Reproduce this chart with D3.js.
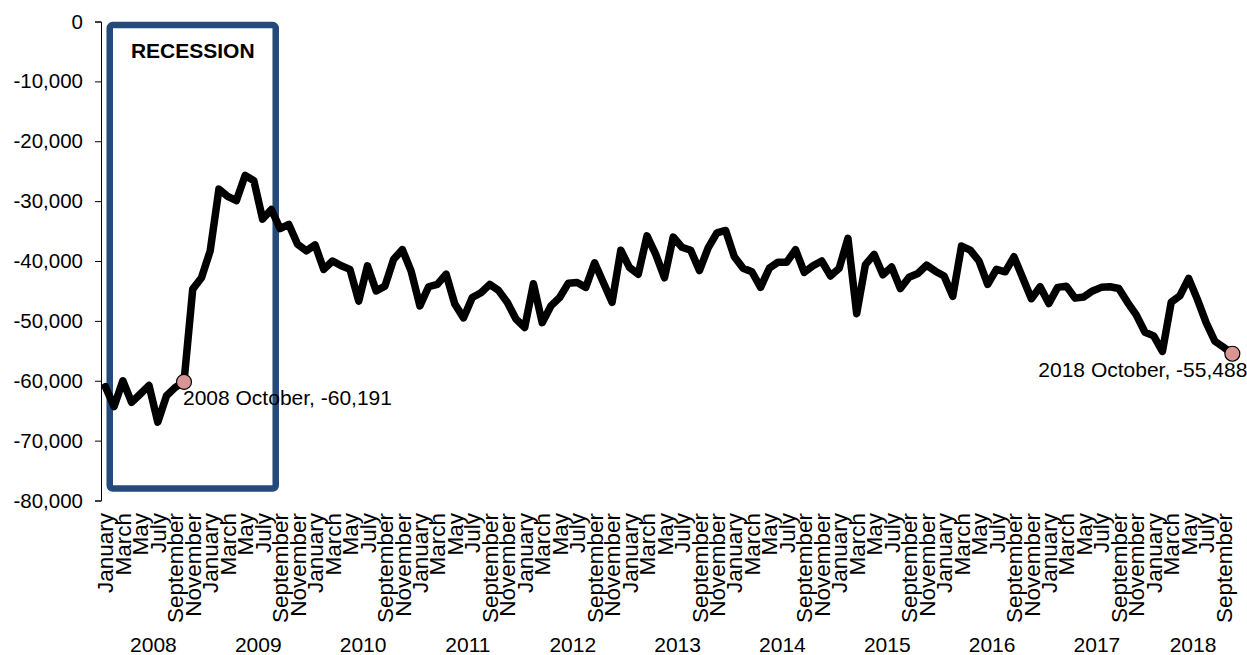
<!DOCTYPE html>
<html>
<head>
<meta charset="utf-8">
<script src="https://cdn.jsdelivr.net/npm/d3@7"></script>
<style>
  body { margin: 0; background: #fff; }
  svg { display: block; font-family: Arial, "Liberation Sans", sans-serif; }
</style>
</head>
<body>
<svg id="svg"></svg>
<script>
// chart data, monthly from January 2008 to October 2018
const years = [2008, 2009, 2010, 2011, 2012, 2013, 2014, 2015, 2016, 2017, 2018];
const monthNames = ["January", "February", "March", "April", "May", "June",
    "July", "August", "September", "October", "November", "December"];
const values = [
    -61000, -64300, -60000, -63600, -62200, -60800, -66900, -62500, -61100, -60191, -44700, -42800,
    -38300, -28000, -29200, -29900, -25700, -26600, -33000, -31400, -34600, -33900, -37200, -38300,
    -37300, -41400, -40000, -40800, -41400, -46700, -40800, -45000, -44200, -39700, -38100, -41700,
    -47500, -44300, -43900, -42200, -47200, -49500, -46100, -45300, -43900, -44900, -46900, -49700,
    -51100, -43800, -50300, -47500, -46100, -43700, -43600, -44400, -40300, -43600, -46900, -38200,
    -41100, -42200, -35800, -38900, -42800, -36000, -37700, -38200, -41600, -37800, -35300, -34900,
    -39300, -41200, -41800, -44400, -41200, -40200, -40200, -38100, -41900, -40800, -40000, -42500,
    -41200, -36200, -48800, -40600, -38900, -42300, -41000, -44600, -42700, -42100, -40700, -41700,
    -42500, -45900, -37500, -38200, -40000, -43900, -41400, -41800, -39300, -42800, -46300, -44300,
    -47100, -44400, -44200, -46200, -46000, -45000, -44400, -44300, -44600, -46900, -49000, -51900,
    -52500, -55100, -46900, -45800, -42900, -46400, -50300, -53400, -54400, -55488
];
const yTicks = [0, -10000, -20000, -30000, -40000, -50000, -60000, -70000, -80000];
const recessionFrom = "2008 February";
const recessionTo = "2009 August";
const recessionLabel = "RECESSION";
const callouts = ["2008 October", "2018 October"];

const width = 1247;
const height = 655;

const svg = d3.select("#svg")
    .attr("width", width)
    .attr("height", height);

// category keys, one per value
let months = [];
for (let y of years) {
    for (let m of monthNames) {
        months.push({ year: y, month: m, key: y + " " + m });
    }
}
months = months.slice(0, values.length);
const data = months.map((d, i) => ({ ...d, value: values[i] }));

const locale = d3.formatLocale({ decimal: ".", thousands: ",", grouping: [3], currency: ["$", ""], minus: "-" });
const fmt = locale.format(",");

const xScale = d3.scaleBand()
    .domain(data.map(d => d.key))
    .range([101, 1236.7])
    .padding(0);

const yScale = d3.scaleLinear()
    .domain([-80000, 0])
    .range([500.5, 21.5]);

const xc = d => xScale(d.key) + xScale.bandwidth() / 2;

// y axis
const yAxis = svg.append("g")
    .attr("transform", "translate(101,0)")
    .call(d3.axisLeft(yScale).tickValues(yTicks).tickFormat(fmt).tickSize(6).tickPadding(12));
yAxis.select(".domain").attr("stroke", "#000").attr("stroke-width", 1);
yAxis.selectAll(".tick line").attr("stroke", "#000");
yAxis.selectAll(".tick text")
    .style("font-size", "20.5px")
    .attr("fill", "#000");

// month labels, every other month
const xAxis = svg.append("g")
    .attr("transform", "translate(0,500)")
    .call(d3.axisBottom(xScale)
        .tickValues(data.filter((d, i) => i % 2 === 0).map(d => d.key))
        .tickFormat(k => k.split(" ")[1])
        .tickSize(0));
xAxis.select(".domain").remove();
xAxis.selectAll(".tick text")
    .attr("transform", "rotate(-90)")
    .attr("text-anchor", "end")
    .attr("x", -13)
    .attr("y", 0)
    .attr("dy", "0.36em")
    .style("font-size", "22.5px")
    .attr("fill", "#000");

// year labels
svg.append("g")
    .selectAll("text")
    .data(years)
    .join("text")
    .attr("x", y => {
        const ms = data.filter(d => d.year === y);
        const a = xScale(ms[0].key);
        const b = xScale(ms[ms.length - 1].key) + xScale.bandwidth();
        return (a + b) / 2;
    })
    .attr("y", 652)
    .attr("text-anchor", "middle")
    .style("font-size", "21px")
    .text(y => y);

// recession box
const rx0 = xScale(recessionFrom);
const rx1 = xScale(recessionTo) + xScale.bandwidth();
svg.append("rect")
    .attr("x", rx0)
    .attr("y", yScale(-600))
    .attr("width", rx1 - rx0)
    .attr("height", yScale(-78000) - yScale(-600))
    .attr("rx", 3)
    .attr("fill", "none")
    .attr("stroke", "#24497b")
    .attr("stroke-width", 6.5);

svg.append("text")
    .attr("x", (rx0 + rx1) / 2)
    .attr("y", 58)
    .attr("text-anchor", "middle")
    .style("font-size", "21px")
    .style("font-weight", "bold")
    .text(recessionLabel);

// the line
const line = d3.line()
    .x(xc)
    .y(d => yScale(d.value));

svg.append("path")
    .datum(data)
    .attr("d", line)
    .attr("fill", "none")
    .attr("stroke", "#000")
    .attr("stroke-width", 7.5)
    .attr("stroke-linejoin", "round")
    .attr("stroke-linecap", "round");

// highlighted points
const marked = data.filter(d => callouts.includes(d.key));
svg.append("g")
    .selectAll("circle")
    .data(marked)
    .join("circle")
    .attr("cx", xc)
    .attr("cy", d => yScale(d.value))
    .attr("r", 7.5)
    .attr("fill", "#d99594")
    .attr("stroke", "#000")
    .attr("stroke-width", 1.2);

svg.append("g")
    .selectAll("text")
    .data(marked)
    .join("text")
    .attr("x", (d, i) => i === 0 ? xc(d) - 1 : xc(d) + 15)
    .attr("y", d => yScale(d.value) + 23)
    .attr("text-anchor", (d, i) => i === 0 ? "start" : "end")
    .style("font-size", "21px")
    .text(d => d.key + ", " + fmt(d.value));
</script>
</body>
</html>
